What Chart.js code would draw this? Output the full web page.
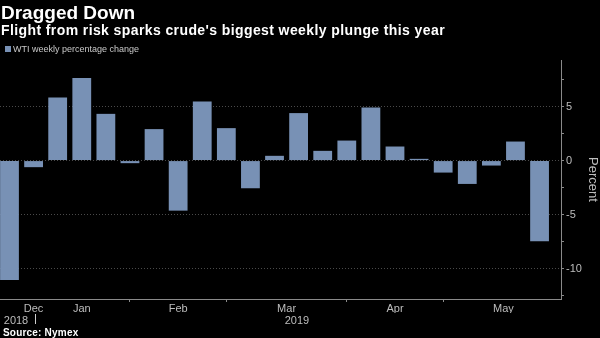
<!DOCTYPE html>
<html>
<head>
<meta charset="utf-8">
<script src="https://cdn.jsdelivr.net/npm/chart.js@4/dist/chart.umd.min.js"></script>
<style>
    html, body { margin: 0; padding: 0; background: #000; }
    #wrap { position: relative; width: 600px; height: 338px; overflow: hidden; }
    canvas { position: absolute; left: 0; top: 0; }
    .txt { position: absolute; left: 1px; color: #fff; font-family: 'Liberation Sans', Arial, sans-serif; white-space: nowrap; }
    #title { top: 2px; font-size: 19px; font-weight: bold; }
    #subtitle { top: 22px; font-size: 14px; font-weight: bold; letter-spacing: 0.4px; }
    #legend { top: 44px; left: 5px; font-size: 9px; color: #c8c8c8; }
    #legend span { display: inline-block; width: 6px; height: 6px; background: #7891b5; margin-right: 2px; }
    #source { top: 327px; left: 3px; font-size: 10px; font-weight: bold; letter-spacing: 0.2px; }
</style>
</head>
<body>
<div id="wrap">
    <canvas id="chart" width="600" height="338"></canvas>
    <div class="txt" id="title">Dragged Down</div>
    <div class="txt" id="subtitle">Flight from risk sparks crude's biggest weekly plunge this year</div>
    <div class="txt" id="legend"><span></span>WTI weekly percentage change</div>
    <div class="txt" id="source">Source: Nymex</div>
</div>
<script>
// weekly WTI changes, week ending Fridays
const weeks = ['2018-12-28', '2019-01-04', '2019-01-11', '2019-01-18', '2019-01-25',
    '2019-02-01', '2019-02-08', '2019-02-15', '2019-02-22', '2019-03-01', '2019-03-08',
    '2019-03-15', '2019-03-22', '2019-03-29', '2019-04-05', '2019-04-12', '2019-04-19',
    '2019-04-26', '2019-05-03', '2019-05-10', '2019-05-17', '2019-05-24', '2019-05-31'];
const wtiChange = [-11.04, -0.61, 5.83, 7.63, 4.32, -0.24, 2.91, -4.63, 5.46, 3.0, -2.56,
    0.44, 4.39, 0.9, 1.85, 4.91, 1.3, 0.16, -1.11, -2.16, -0.46, 1.76, -7.46];

// month labels sit mid-month, tick marks at month starts (in week index units)
const monthLabels = ['Dec', 'Jan', 'Feb', 'Mar', 'Apr', 'May'];
const monthLabelPos = [1, 3, 7, 11.5, 16, 20.5];
const monthStarts = [5, 9, 14, 18];
const yearLabels = ['2018', '2019'];
const yearLabelPos = [0.27, 11.93];
const yearBreak = 1.06;

const yTicks = [-12.5, -10, -7.5, -5, -2.5, 0, 2.5, 5, 7.5];

const X_MIN = -0.394, X_MAX = 22.89;
const FONT = "'Liberation Sans Narrow', 'Liberation Sans', Arial, sans-serif";
const LABEL = '#bdbdbd';
const AXIS = '#8a8a8a';

const xTicks = monthLabelPos.map((v, i) => ({ value: v, label: monthLabels[i], major: true }))
    .concat(monthStarts.map(v => ({ value: v, label: '', major: false })))
    .sort((a, b) => a.value - b.value);

const yearDivider = {
    id: 'yearDivider',
    afterDraw(chart) {
        const x2 = chart.scales.x2;
        const px = Math.round(x2.getPixelForValue(yearBreak)) + 0.5;
        const ctx = chart.ctx;
        ctx.save();
        ctx.strokeStyle = '#cfcfcf';
        ctx.lineWidth = 1;
        ctx.beginPath();
        ctx.moveTo(px, x2.top + 1);
        ctx.lineTo(px, x2.top + 11);
        ctx.stroke();
        ctx.restore();
    }
};

new Chart(document.getElementById('chart'), {
    type: 'bar',
    data: {
        labels: weeks,
        datasets: [{
            label: 'WTI weekly percentage change',
            data: wtiChange.map((v, i) => ({ x: i, y: v })),
            backgroundColor: '#7891b5',
            borderWidth: 0,
            barPercentage: 0.78,
            categoryPercentage: 1
        }]
    },
    options: {
        responsive: false,
        animation: false,
        layout: { padding: { top: 60, left: 0, right: 0, bottom: 11 } },
        plugins: {
            legend: { display: false },
            tooltip: { enabled: false }
        },
        scales: {
            x: {
                type: 'linear',
                offset: false,
                min: X_MIN,
                max: X_MAX,
                afterBuildTicks: scale => { scale.ticks = xTicks.map(t => ({ value: t.value })); },
                afterFit: scale => { scale.height = 14; },
                grid: {
                    offset: false,
                    drawOnChartArea: false,
                    tickLength: 3,
                    tickColor: ctx => xTicks[ctx.index] && !xTicks[ctx.index].major ? AXIS : 'rgba(0,0,0,0)'
                },
                border: { color: AXIS, width: 1 },
                ticks: {
                    autoSkip: false,
                    maxRotation: 0,
                    padding: 0,
                    color: LABEL,
                    font: { family: FONT, size: 11 },
                    callback: (value, index) => xTicks[index] ? xTicks[index].label : ''
                }
            },
            x2: {
                type: 'linear',
                position: 'bottom',
                offset: false,
                min: X_MIN,
                max: X_MAX,
                afterBuildTicks: scale => { scale.ticks = yearLabelPos.map(v => ({ value: v })); },
                afterFit: scale => { scale.height = 14; },
                grid: { display: false, drawTicks: false, offset: false },
                border: { display: false },
                ticks: {
                    autoSkip: false,
                    maxRotation: 0,
                    padding: 1,
                    color: LABEL,
                    font: { family: FONT, size: 11 },
                    callback: (value, index) => yearLabels[index]
                }
            },
            y: {
                position: 'right',
                min: -12.8,
                max: 9.3,
                afterBuildTicks: scale => { scale.ticks = yTicks.map(v => ({ value: v })); },
                afterFit: scale => { scale.width = 39; },
                grid: {
                    color: ctx => ctx.tick && ctx.tick.value % 5 === 0 ? '#4a4a4a' : 'rgba(0,0,0,0)',
                    tickColor: AXIS,
                    tickLength: 3,
                    tickBorderDash: []
                },
                border: { color: AXIS, width: 1, dash: [1, 2] },
                ticks: {
                    autoSkip: false,
                    padding: 2,
                    color: LABEL,
                    font: { family: FONT, size: 11 },
                    callback: value => value % 5 === 0 ? String(value) : ''
                },
                title: {
                    display: true,
                    text: 'Percent',
                    color: LABEL,
                    font: { family: "'Liberation Sans', Arial, sans-serif", size: 13 },
                    padding: { top: 0, bottom: 2 }
                }
            }
        }
    },
    plugins: [yearDivider]
});
</script>
</body>
</html>
